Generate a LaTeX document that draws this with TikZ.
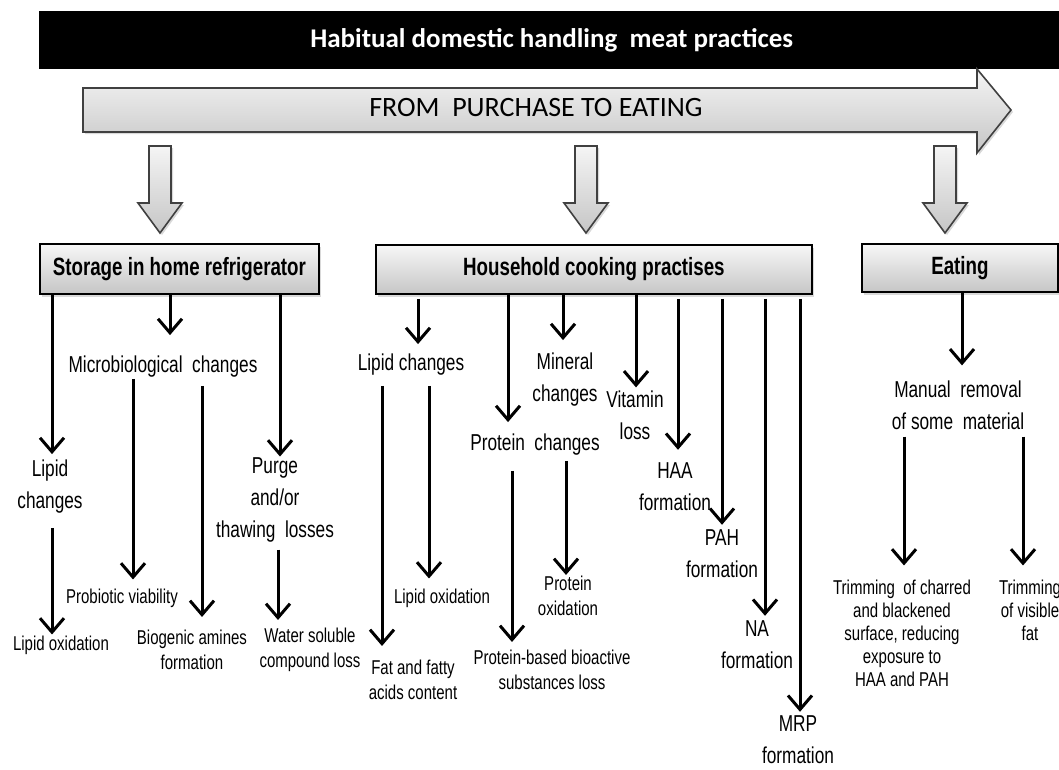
\documentclass[tikz,border=0pt]{standalone}
\usepackage{fontspec}
\setmainfont{Liberation Sans}[FakeStretch=0.75]
\newfontfamily\calfont{Carlito}
\usepackage{xcolor}
\usetikzlibrary{arrows.meta,shadows}

\begin{document}
\begin{tikzpicture}[x=1pt,y=-1pt,
		stagebox/.style={draw=black, line width=1.8pt, top color=gray!6, bottom color=gray!45, anchor=north west, inner sep=0pt,
			drop shadow={opacity=0.3, shadow xshift=2pt, shadow yshift=-3pt}, font=\fontsize{25}{30}\selectfont\bfseries},
		blockarrow/.style={draw=black!75, line width=1.6pt, top color=gray!8, bottom color=gray!45,
			drop shadow={opacity=0.3, shadow xshift=2pt, shadow yshift=-2pt}},
		lbl/.style={align=center, inner sep=1pt, font=\fontsize{23}{32}\selectfont},
		sml/.style={align=center, inner sep=1pt, font=\fontsize{20}{25}\selectfont},
		arr/.style={line width=3pt, -{Straight Barb[length=14pt,width=24pt]}}]
		\useasboundingbox (0,0) rectangle (1059,769);
		
		% title bar and flow arrow
		\node[fill=black, text=white, anchor=north west, minimum width=1025, minimum height=58, font=\calfont\bfseries\fontsize{27}{30}\selectfont] (title) at (39,11) {Habitual domestic handling\ \ meat practices};
		\draw[blockarrow] (83,88) -- (977,88) -- (977,69) -- (1011,110) -- (977,153) -- (977,132) -- (83,132) -- cycle;
		\node[font=\calfont\fontsize{28}{30}\selectfont] (flow) at (536,108) {FROM\ \ PURCHASE TO EATING};
		
		\foreach \x in {160,586,945}{
			\draw[blockarrow] (\x-11,146) -- (\x+11,146) -- (\x+11,203) -- (\x+22,203) -- (\x,233) -- (\x-22,203) -- (\x-11,203) -- cycle;
		}
		
		% the three stages
		\node[stagebox, minimum width=279, minimum height=50] (store) at (39,243) {Storage in home refrigerator};
		\node[stagebox, minimum width=436, minimum height=49] (cook) at (375,244) {Household cooking practises};
		\node[stagebox, minimum width=196, minimum height=48] (eat) at (861,243) {Eating};
		
		% storage
		\node[lbl] (slip) at (50,487) {Lipid\\changes};
		\node[lbl] (micro) at (163,367) {Microbiological\ \ changes};
		\node[lbl] (purge) at (275,500) {Purge\\and/or\\thawing\ \ losses};
		\node[sml] (sox) at (61,645) {Lipid oxidation};
		\node[sml] (probio) at (122,598) {Probiotic viability};
		\node[sml] (biogen) at (192,650) {Biogenic amines\\formation};
		\node[sml] (water) at (310,650) {Water soluble\\compound loss};
		
		% cooking
		\node[lbl] (clip) at (411,365) {Lipid changes};
		\node[lbl] (prot) at (535,445) {Protein\ \ changes};
		\node[lbl] (mineral) at (565,380) {Mineral\\changes};
		\node[lbl] (vit) at (635,415) {Vitamin\\loss};
		\node[lbl] (haa) at (675,487) {HAA\\formation};
		\node[lbl] (pah) at (722,554) {PAH\\formation};
		\node[lbl] (na) at (757,645) {NA\\formation};
		\node[lbl] (mrp) at (798,740) {MRP\\formation};
		\node[sml] (fat) at (413,680) {Fat and fatty\\acids content};
		\node[sml] (cox) at (442,598) {Lipid oxidation};
		\node[sml] (pbb) at (552,670) {Protein-based bioactive\\substances loss};
		\node[sml] (pox) at (568,596) {Protein\\oxidation};
		
		% eating
		\node[lbl] (manual) at (958,405) {Manual\ \ removal\\of some\ \ material};
		\node[sml, font=\fontsize{20}{23}\selectfont] (trima) at (902,633) {Trimming\ \ of charred\\and blackened\\surface, reducing\\exposure to\\HAA and PAH};
		\node[sml, font=\fontsize{20}{23}\selectfont] (trimb) at (1030,610) {Trimming\\of visible\\fat};
		
		\foreach \x/\a/\b/\s/\e in {52/store/slip/0/5, 170/store/micro/0/20, 280/store/purge/0/0,
			52/slip/sox/13/0, 133/micro/probio/0/8, 202/micro/biogen/7/12, 278/purge/water/6/7,
			418/cook/clip/4/9, 508/cook/prot/0/11, 563/cook/mineral/0/12, 636/cook/vit/0/2,
			678/cook/haa/4/12, 722/cook/pah/4/4, 765/cook/na/4/4, 800/cook/mrp/4/3,
			382/clip/fat/9/13, 429/clip/cox/9/9, 512/prot/pbb/14/7, 566/prot/pox/4/0,
			962/eat/manual/0/14, 904/manual/trima/6/13, 1023/manual/trimb/6/13}{
			\draw[arr, shorten <=\s pt, shorten >=\e pt] (\a.south -| \x,0) -- (\b.north -| \x,0);
		}
\end{tikzpicture}
\end{document}
